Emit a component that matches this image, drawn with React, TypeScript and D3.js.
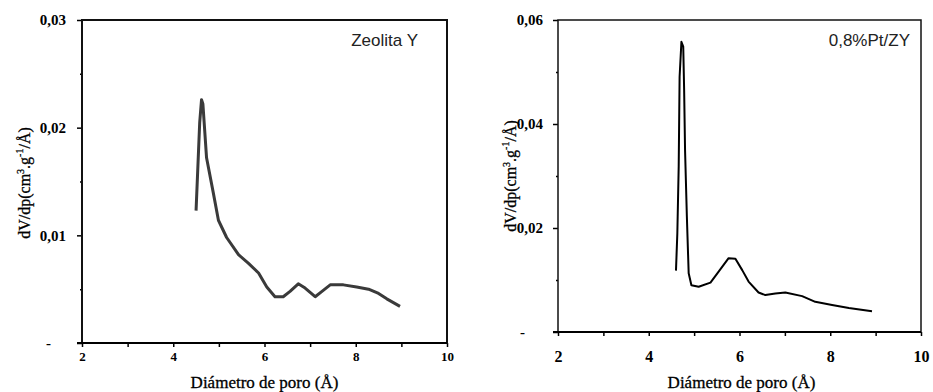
import React, { useRef, useEffect } from "react";
import { axisBottom, axisLeft, line, scaleLinear, select } from "d3";

// Zeolita Y
const zeoX = [4.5, 4.58, 4.62, 4.65, 4.73, 4.88, 4.99, 5.17, 5.43, 5.65, 5.87, 6.05, 6.23, 6.41, 6.56, 6.74, 6.89, 7.11, 7.26, 7.44, 7.73, 8.02, 8.28, 8.5, 8.68, 8.97];
const zeoY = [0.0123, 0.0205, 0.0226, 0.0222, 0.0172, 0.0139, 0.0114, 0.0098, 0.0082, 0.0074, 0.0065, 0.0052, 0.0043, 0.0043, 0.0048, 0.0055, 0.0051, 0.0043, 0.0048, 0.0054, 0.0054, 0.0052, 0.005, 0.0046, 0.0041, 0.0034];

// 0,8%Pt/ZY
const ptX = [4.6, 4.63, 4.66, 4.68, 4.72, 4.76, 4.78, 4.8, 4.84, 4.88, 4.94, 5.1, 5.36, 5.54, 5.76, 5.91, 6.06, 6.2, 6.42, 6.57, 6.79, 7.01, 7.38, 7.67, 8.04, 8.41, 8.92];
const ptY = [0.0118, 0.019, 0.0318, 0.0491, 0.0558, 0.0549, 0.0465, 0.035, 0.0222, 0.0113, 0.009, 0.0087, 0.0095, 0.0116, 0.0142, 0.0141, 0.0119, 0.0097, 0.0076, 0.0071, 0.0074, 0.0076, 0.0069, 0.0058, 0.0052, 0.0046, 0.004];

const xTicks = [2, 3, 4, 5, 6, 7, 8, 9, 10];
const zeoYTicks = [0, 0.01, 0.02, 0.03];
const zeoYMinor = [0.005, 0.015, 0.025];
const ptYTicks = [0, 0.02, 0.04, 0.06];
const ptYMinor = [0.01, 0.03, 0.05];

const serif = "'Liberation Serif', 'Times New Roman', serif";
const sans = "'Liberation Sans', Arial, sans-serif";

function Panel(props) {
  const gRef = useRef();
  useEffect(() => {
    const g = select(gRef.current);
    g.selectAll("*").remove();
    const p = props;
    const x = scaleLinear().domain([2, 10]).range([p.left, p.right]);
    const y = scaleLinear().domain([0, p.yMax]).range([p.bottom, p.top]);

    const fmt = (d) => (d === 0 ? "-" : d.toFixed(2).replace(".", ","));

    // y axis, major ticks
    const ya = g
      .append("g")
      .attr("transform", `translate(${p.left},0)`)
      .call(axisLeft(y).tickValues(p.yTicks).tickSize(5).tickPadding(p.yPad).tickFormat(fmt));
    ya.select(".domain").remove();
    ya.selectAll("line").attr("stroke", "#000").attr("stroke-width", 1.5);
    ya.selectAll("text")
      .style("font", `bold ${p.yFont}px ${serif}`)
      .attr("fill", "#000")
      .attr("dx", (d) => (d === 0 ? p.zeroShift : 0));

    // y axis, minor ticks
    const ym = g
      .append("g")
      .attr("transform", `translate(${p.left},0)`)
      .call(axisLeft(y).tickValues(p.yMinor).tickSize(2).tickFormat(""));
    ym.select(".domain").remove();
    ym.selectAll("line").attr("stroke", "#000").attr("stroke-width", 1.5);

    // x axis
    const xa = g
      .append("g")
      .attr("transform", `translate(0,${p.bottom})`)
      .call(
        axisBottom(x)
          .tickValues(xTicks)
          .tickSize(4)
          .tickPadding(p.xPad)
          .tickFormat((d) => (d % 2 === 0 ? String(d) : ""))
      );
    xa.select(".domain").remove();
    xa.selectAll("line").attr("stroke", "#000").attr("stroke-width", 1.5);
    xa.selectAll("text").style("font", `bold ${p.xFont}px ${serif}`).attr("fill", "#000");

    // frame
    g.append("rect")
      .attr("x", p.left)
      .attr("y", p.top)
      .attr("width", p.right - p.left)
      .attr("height", p.bottom - p.top)
      .attr("fill", "none")
      .attr("stroke", "#111")
      .attr("stroke-width", p.frameWidth);
    g.append("line")
      .attr("x1", p.left - 5)
      .attr("x2", p.right)
      .attr("y1", p.bottom)
      .attr("y2", p.bottom)
      .attr("stroke", "#000")
      .attr("stroke-width", 2.2);

    // data line
    const pts = p.xs.map((v, i) => [v, p.ys[i]]);
    g.append("path")
      .attr("fill", "none")
      .attr("stroke", p.color)
      .attr("stroke-width", p.lineWidth)
      .attr("stroke-linejoin", "round")
      .attr(
        "d",
        line()
          .x((d) => x(d[0]))
          .y((d) => y(d[1]))(pts)
      );

    // series label
    g.append("text")
      .attr("x", p.labelX)
      .attr("y", p.top + 26)
      .attr("text-anchor", "end")
      .style("font", `17px ${sans}`)
      .attr("fill", "#222")
      .text(p.label);

    // x title
    g.append("text")
      .attr("x", (p.left + p.right) / 2 - p.titleShift)
      .attr("y", 388)
      .attr("text-anchor", "middle")
      .style("font", `17px ${serif}`)
      .attr("fill", "#000")
      .attr("stroke", "#000")
      .attr("stroke-width", 0.3)
      .text("Diámetro de poro (Å)");

    // y title
    const yt = g
      .append("text")
      .attr("transform", `translate(${p.yTitleX},${p.yTitleY}) rotate(-90)`)
      .attr("text-anchor", "middle")
      .style("font", `16px ${serif}`)
      .attr("fill", "#000")
      .attr("stroke", "#000")
      .attr("stroke-width", 0.3);
    yt.append("tspan").text("dV/dp(cm");
    yt.append("tspan").attr("dy", -6).style("font-size", "10px").text("3");
    yt.append("tspan").attr("dy", 6).text(".g");
    yt.append("tspan").attr("dy", -7).style("font-size", "10px").text("-1");
    yt.append("tspan").attr("dy", 7).text("/Å)");
  }, [props]);
  return <g ref={gRef}></g>;
}

export default function App() {
  return (
    <svg
      width={933}
      height={392}
      style={{ position: "absolute", left: 0, top: 0, background: "#fff" }}
    >
      <Panel
        xs={zeoX}
        ys={zeoY}
        yMax={0.03}
        yTicks={zeoYTicks}
        yMinor={zeoYMinor}
        left={82}
        right={447}
        top={20}
        bottom={343}
        yPad={11}
        yFont={15}
        zeroShift={-15}
        xPad={5}
        xFont={13}
        frameWidth={2}
        color="#3a3a3a"
        lineWidth={3}
        label="Zeolita Y"
        labelX={418}
        titleShift={0}
        yTitleX={30}
        yTitleY={183}
      />
      <Panel
        xs={ptX}
        ys={ptY}
        yMax={0.06}
        yTicks={ptYTicks}
        yMinor={ptYMinor}
        left={558}
        right={921}
        top={20}
        bottom={332}
        yPad={10}
        yFont={15}
        zeroShift={-18}
        xPad={15}
        xFont={16}
        frameWidth={1.5}
        color="#000"
        lineWidth={2}
        label="0,8%Pt/ZY"
        labelX={910}
        titleShift={-2}
        yTitleX={516}
        yTitleY={176}
      />
    </svg>
  );
}
